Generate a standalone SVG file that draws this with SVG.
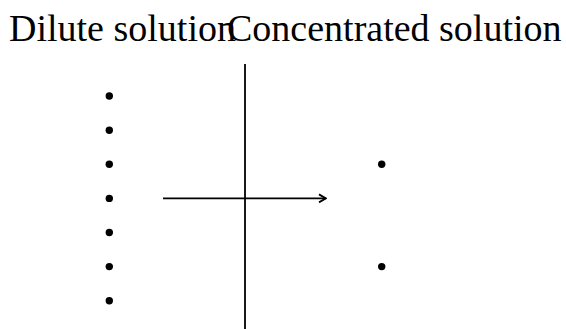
<svg xmlns="http://www.w3.org/2000/svg" width="566" height="329" viewBox="0 0 566 329">
<style>
text{font-family:"Liberation Serif","Times New Roman",serif;font-size:38px;fill:#000}
.dot{fill:#000}
.ln{stroke:#000;stroke-width:1.8;fill:none}
</style>
<defs>
<marker id="ah" viewBox="0 0 10 10" refX="9" refY="5" markerWidth="10" markerHeight="10" markerUnits="userSpaceOnUse" orient="auto">
<path d="M2,1 L9,5 L2,9" fill="none" stroke="#000" stroke-width="1.8"/>
</marker>
</defs>
<g id="labels">
<text x="9" y="41">Dilute solution</text>
<text x="227" y="41">Concentrated solution</text>
</g>
<g id="dilute">
<circle class="dot" cx="109.3" cy="96" r="3.7"/>
<circle class="dot" cx="109.3" cy="130.2" r="3.7"/>
<circle class="dot" cx="109.3" cy="164.3" r="3.7"/>
<circle class="dot" cx="109.3" cy="198.4" r="3.7"/>
<circle class="dot" cx="109.3" cy="232.5" r="3.7"/>
<circle class="dot" cx="109.3" cy="266.6" r="3.7"/>
<circle class="dot" cx="109.3" cy="300.7" r="3.7"/>
</g>
<g id="concentrated">
<circle class="dot" cx="381.7" cy="164.3" r="3.7"/>
<circle class="dot" cx="381.7" cy="266.6" r="3.7"/>
</g>
<g id="membrane">
<line class="ln" x1="245" y1="64" x2="245" y2="329"/>
</g>
<g id="connectors">
<line class="ln" x1="163" y1="198.4" x2="326" y2="198.4" marker-end="url(#ah)"/>
</g>
</svg>
